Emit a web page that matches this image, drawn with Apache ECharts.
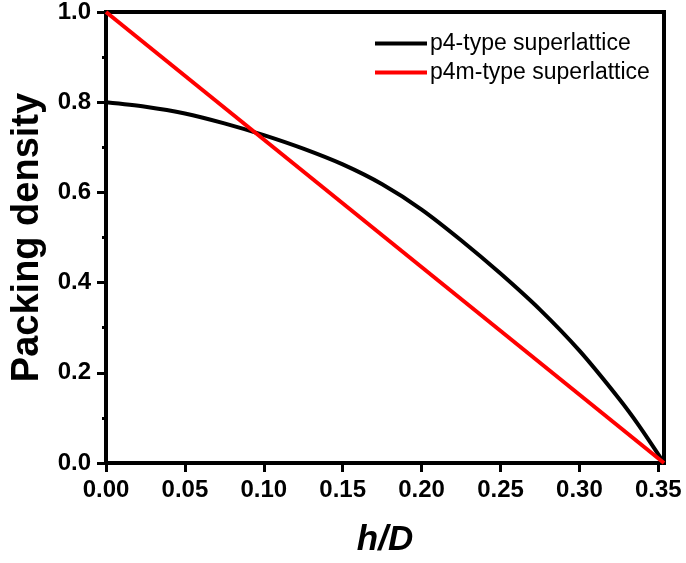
<!DOCTYPE html>
<html>
<head>
<meta charset="utf-8">
<script src="https://cdn.jsdelivr.net/npm/echarts@6/dist/echarts.min.js"></script>
<style>
  html, body { margin: 0; padding: 0; background: #fff; }
  #chart { width: 686px; height: 563px; }
</style>
</head>
<body>
<div id="chart"></div>
<script>
// h/D values and packing density
const p4X = [0, 0.025, 0.05, 0.075, 0.1, 0.125, 0.15, 0.175, 0.2, 0.225, 0.25, 0.275, 0.3, 0.325, 0.3375, 0.3536];
const p4Y = [0.800, 0.790, 0.775, 0.753, 0.727, 0.697, 0.662, 0.618, 0.562, 0.494, 0.420, 0.340, 0.249, 0.143, 0.084, 0.0];
const p4mX = [0, 0.3536];
const p4mY = [1.0, 0.0];
const seriesNames = ['p4-type superlattice', 'p4m-type superlattice'];

const font = 'Liberation Sans, Arial, sans-serif';
const pair = (xs, ys) => xs.map((x, i) => [x, ys[i]]);

const chart = echarts.init(document.getElementById('chart'));
chart.setOption({
  animation: false,
  grid: {
    left: 106,
    right: 22,
    top: 12,
    bottom: 100,
    show: true,
    borderColor: '#000',
    borderWidth: 4,
  },
  legend: {
    orient: 'vertical',
    left: 370,
    top: 27,
    itemWidth: 52,
    itemHeight: 4,
    itemGap: 6,
    icon: 'rect',
    textStyle: { fontFamily: font, fontSize: 23, color: '#000', padding: [0, 0, 0, -2] },
    data: seriesNames,
  },
  xAxis: {
    type: 'value',
    min: 0,
    max: 0.3536,
    interval: 0.05,
    name: 'h/D',
    nameLocation: 'middle',
    nameGap: 60,
    nameTextStyle: { fontFamily: font, fontSize: 35, fontWeight: 'bold', fontStyle: 'italic', color: '#000' },
    axisLine: { lineStyle: { color: '#000', width: 4 } },
    axisTick: { length: 9, lineStyle: { color: '#000', width: 3 } },
    axisLabel: {
      fontFamily: font, fontSize: 24, fontWeight: 'bold', color: '#000', margin: 15,
      showMaxLabel: false,
      formatter: (v) => v.toFixed(2),
    },
    splitLine: { show: false },
  },
  yAxis: {
    type: 'value',
    min: 0,
    max: 1,
    interval: 0.2,
    name: 'Packing density',
    nameLocation: 'middle',
    nameGap: 52,
    nameTextStyle: { fontFamily: font, fontSize: 38, fontWeight: 'bold', color: '#000' },
    axisLine: { lineStyle: { color: '#000', width: 4 } },
    axisTick: { length: 9, lineStyle: { color: '#000', width: 3 } },
    minorTick: { show: true, splitNumber: 2, length: 4, lineStyle: { color: '#000', width: 3 } },
    axisLabel: {
      fontFamily: font, fontSize: 24, fontWeight: 'bold', color: '#000', margin: 15,
      formatter: (v) => v.toFixed(1),
    },
    splitLine: { show: false },
  },
  series: [
    {
      name: seriesNames[0],
      type: 'line',
      smooth: 0.3,
      showSymbol: false,
      color: '#000',
      lineStyle: { color: '#000', width: 4 },
      data: pair(p4X, p4Y),
    },
    {
      name: seriesNames[1],
      type: 'line',
      showSymbol: false,
      color: '#ff0000',
      lineStyle: { color: '#ff0000', width: 4 },
      data: pair(p4mX, p4mY),
    },
  ],
});
</script>
</body>
</html>
